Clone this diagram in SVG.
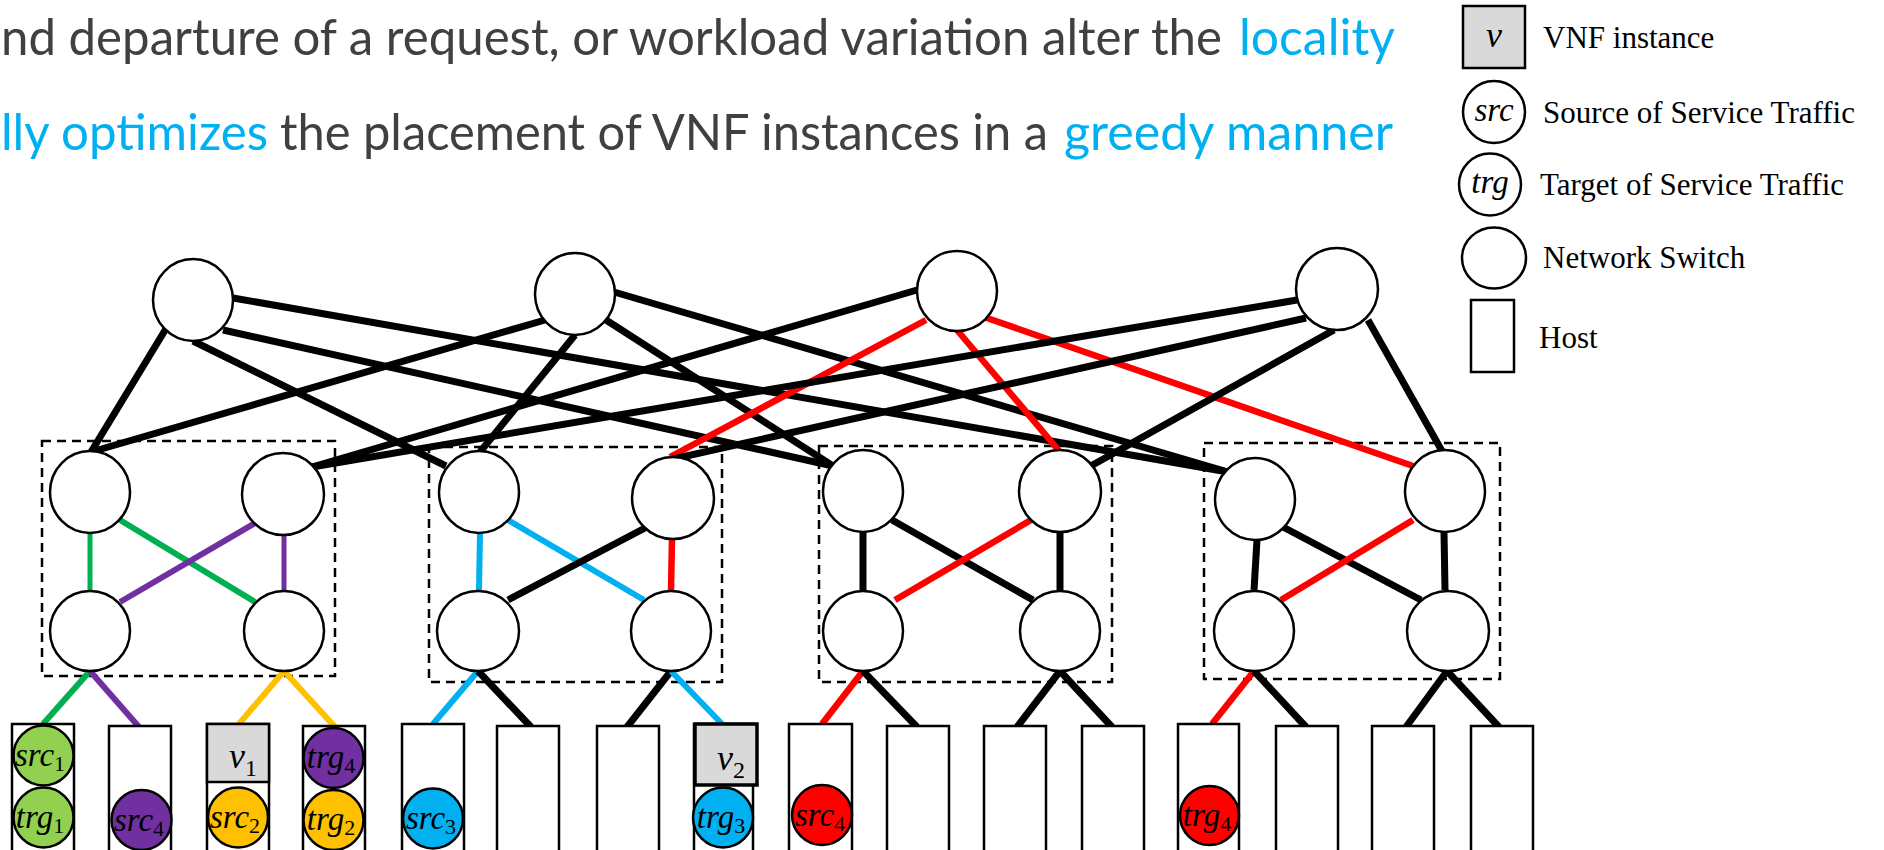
<svg xmlns="http://www.w3.org/2000/svg" width="1884" height="850" viewBox="0 0 1884 850">
<style>
.hd{font-family:Lato,"Open Sans","Liberation Sans",sans-serif;font-size:50px}
.gr{fill:#404040}
.bl{fill:#00B0F0}
.lg{font-family:"Liberation Serif","Times New Roman",serif;font-size:31px;fill:#000}
.m{font-family:"Liberation Serif","Times New Roman",serif;font-style:italic;font-size:33px;fill:#000}
.sub{font-style:normal;font-size:22px}
.sw{fill:#fff;stroke:#000;stroke-width:2.5}
.host{fill:#fff;stroke:#000;stroke-width:2.5}
.vnf{fill:#D9D9D9;stroke:#000;stroke-width:2.5}
.pc{stroke:#000;stroke-width:2.5}
.pod{fill:none;stroke:#000;stroke-width:2.5;stroke-dasharray:9 6}
.k{stroke:#000;stroke-width:7;stroke-linecap:butt}
.r{stroke:#FF0000;stroke-width:6.5}
.g{stroke:#00B050;stroke-width:6}
.p{stroke:#7030A0;stroke-width:6}
.o{stroke:#FFC000;stroke-width:6}
.b{stroke:#00B0F0;stroke-width:6}
</style>

<!-- header text -->
<g id="header">
<text class="hd gr" x="1" y="55" textLength="1221" lengthAdjust="spacingAndGlyphs">nd departure of a request, or workload variation alter the</text>
<text class="hd bl" x="1239" y="55" textLength="156" lengthAdjust="spacingAndGlyphs">locality</text>
<text class="hd bl" x="1" y="150" textLength="267" lengthAdjust="spacingAndGlyphs">lly optimizes</text>
<text class="hd gr" x="280" y="150" textLength="768" lengthAdjust="spacingAndGlyphs">the placement of VNF instances in a</text>
<text class="hd bl" x="1064" y="150" textLength="329" lengthAdjust="spacingAndGlyphs">greedy manner</text>
</g>

<!-- pods -->
<g id="pods">
<rect id="pod1" class="pod" x="42" y="441" width="293" height="235"/>
<rect id="pod2" class="pod" x="429" y="447" width="293" height="235"/>
<rect id="pod3" class="pod" x="819" y="446" width="293" height="236"/>
<rect id="pod4" class="pod" x="1204" y="443" width="296" height="236"/>
</g>

<!-- connectors -->
<g id="connectors">
<!-- core to aggregation -->
<line class="k" x1="167" y1="327" x2="91" y2="452"/>
<line class="k" x1="193" y1="341" x2="446" y2="466"/>
<line class="k" x1="223" y1="330" x2="833" y2="466"/>
<line class="k" x1="233" y1="298" x2="1228" y2="472"/>
<line class="k" x1="545" y1="320" x2="91" y2="452"/>
<line class="k" x1="575" y1="335" x2="480" y2="452"/>
<line class="k" x1="606" y1="320" x2="833" y2="466"/>
<line class="k" x1="614" y1="292" x2="1228" y2="472"/>
<line class="k" x1="917" y1="290" x2="312" y2="467"/>
<line class="r" x1="926" y1="320" x2="670" y2="457"/>
<line class="r" x1="957" y1="330" x2="1060" y2="452"/>
<line class="r" x1="984" y1="317" x2="1413" y2="466"/>
<line class="k" x1="1297" y1="300" x2="312" y2="467"/>
<line class="k" x1="1306" y1="318" x2="673" y2="459"/>
<line class="k" x1="1334" y1="330" x2="1089" y2="467"/>
<line class="k" x1="1368" y1="320" x2="1442" y2="451"/>
<!-- aggregation to edge -->
<line class="g" style="stroke-width:5" x1="90" y1="533" x2="90" y2="590"/>
<line class="g" x1="120" y1="520" x2="255" y2="602"/>
<line class="p" x1="255" y1="523" x2="120" y2="602"/>
<line class="p" style="stroke-width:5" x1="284" y1="535" x2="284" y2="590"/>
<line class="b" x1="480" y1="533" x2="479" y2="590"/>
<line class="b" x1="508" y1="520" x2="644" y2="600"/>
<line class="k" x1="645" y1="528" x2="508" y2="600"/>
<line class="r" x1="672" y1="539" x2="671" y2="590"/>
<line class="k" x1="863" y1="532" x2="863" y2="590"/>
<line class="k" x1="892" y1="520" x2="1033" y2="600"/>
<line class="r" x1="1031" y1="520" x2="895" y2="600"/>
<line class="k" x1="1060" y1="532" x2="1060" y2="590"/>
<line class="k" x1="1257" y1="540" x2="1254" y2="590"/>
<line class="k" x1="1283" y1="527" x2="1421" y2="600"/>
<line class="r" x1="1413" y1="520" x2="1281" y2="600"/>
<line class="k" x1="1444" y1="532" x2="1445" y2="590"/>
<!-- edge to host -->
<line class="g" x1="90" y1="671" x2="43" y2="724"/>
<line class="p" x1="90" y1="671" x2="139" y2="727"/>
<line class="o" x1="284" y1="671" x2="239" y2="724"/>
<line class="o" x1="284" y1="671" x2="335" y2="727"/>
<line class="b" x1="478" y1="671" x2="433" y2="724"/>
<line class="k" x1="478" y1="671" x2="531" y2="727"/>
<line class="k" x1="671" y1="671" x2="627" y2="727"/>
<line class="b" x1="671" y1="671" x2="722" y2="724"/>
<line class="r" x1="863" y1="671" x2="822" y2="724"/>
<line class="k" x1="863" y1="671" x2="917" y2="727"/>
<line class="k" x1="1060" y1="671" x2="1017" y2="727"/>
<line class="k" x1="1060" y1="671" x2="1112" y2="727"/>
<line class="r" x1="1254" y1="671" x2="1212" y2="724"/>
<line class="k" x1="1254" y1="671" x2="1306" y2="727"/>
<line class="k" x1="1447" y1="671" x2="1406" y2="727"/>
<line class="k" x1="1447" y1="671" x2="1499" y2="727"/>
</g>

<!-- core switches -->
<g id="core1"><ellipse class="sw" cx="193" cy="300" rx="40" ry="41"/></g>
<g id="core2"><ellipse class="sw" cx="575" cy="294" rx="40" ry="41"/></g>
<g id="core3"><ellipse class="sw" cx="957" cy="291" rx="40" ry="40"/></g>
<g id="core4"><ellipse class="sw" cx="1337" cy="289" rx="41" ry="41"/></g>
<!-- aggregation switches -->
<g id="agg1"><ellipse class="sw" cx="90" cy="492" rx="40" ry="41"/></g>
<g id="agg2"><ellipse class="sw" cx="283" cy="494" rx="41" ry="41"/></g>
<g id="agg3"><ellipse class="sw" cx="479" cy="492" rx="40" ry="41"/></g>
<g id="agg4"><ellipse class="sw" cx="673" cy="498" rx="41" ry="41"/></g>
<g id="agg5"><ellipse class="sw" cx="863" cy="491" rx="40" ry="41"/></g>
<g id="agg6"><ellipse class="sw" cx="1060" cy="491" rx="41" ry="41"/></g>
<g id="agg7"><ellipse class="sw" cx="1255" cy="499" rx="40" ry="41"/></g>
<g id="agg8"><ellipse class="sw" cx="1445" cy="491" rx="40" ry="41"/></g>
<!-- edge switches -->
<g id="edge1"><ellipse class="sw" cx="90" cy="631" rx="40" ry="40"/></g>
<g id="edge2"><ellipse class="sw" cx="284" cy="631" rx="40" ry="40"/></g>
<g id="edge3"><ellipse class="sw" cx="478" cy="631" rx="41" ry="40"/></g>
<g id="edge4"><ellipse class="sw" cx="671" cy="631" rx="40" ry="40"/></g>
<g id="edge5"><ellipse class="sw" cx="863" cy="631" rx="40" ry="40"/></g>
<g id="edge6"><ellipse class="sw" cx="1060" cy="631" rx="40" ry="40"/></g>
<g id="edge7"><ellipse class="sw" cx="1254" cy="631" rx="40" ry="40"/></g>
<g id="edge8"><ellipse class="sw" cx="1448" cy="631" rx="41" ry="40"/></g>

<!-- hosts -->
<g id="host1"><rect class="host" x="12" y="724" width="62" height="130"/>
<circle class="pc" cx="43.5" cy="755.5" r="30" fill="#92D050"/>
<text class="m" x="40" y="766" text-anchor="middle">src<tspan class="sub" dy="5">1</tspan></text>
<circle class="pc" cx="43.5" cy="817.5" r="30" fill="#92D050"/>
<text class="m" x="40" y="828" text-anchor="middle">trg<tspan class="sub" dy="5">1</tspan></text></g>
<g id="host2"><rect class="host" x="109" y="726" width="62" height="130"/>
<circle class="pc" cx="141.5" cy="820" r="30" fill="#7030A0"/>
<text class="m" x="139" y="831" text-anchor="middle">src<tspan class="sub" dy="5">4</tspan></text></g>
<g id="host3"><rect class="host" x="207" y="724" width="62" height="130"/>
<rect class="vnf" x="207" y="724" width="62" height="58"/>
<text class="m" x="243" y="768" text-anchor="middle" style="font-size:36px">v<tspan class="sub" dy="8" style="font-size:24px">1</tspan></text>
<circle class="pc" cx="238" cy="817.5" r="30" fill="#FFC000"/>
<text class="m" x="235" y="828" text-anchor="middle">src<tspan class="sub" dy="5">2</tspan></text></g>
<g id="host4"><rect class="host" x="303" y="726" width="62" height="130"/>
<circle class="pc" cx="333.5" cy="758" r="30" fill="#7030A0"/>
<text class="m" x="331" y="768" text-anchor="middle">trg<tspan class="sub" dy="5">4</tspan></text>
<circle class="pc" cx="333.5" cy="820" r="30" fill="#FFC000"/>
<text class="m" x="331" y="830" text-anchor="middle">trg<tspan class="sub" dy="5">2</tspan></text></g>
<g id="host5"><rect class="host" x="402" y="724" width="62" height="130"/>
<circle class="pc" cx="433" cy="818.5" r="30" fill="#00B0F0"/>
<text class="m" x="431" y="829" text-anchor="middle">src<tspan class="sub" dy="5">3</tspan></text></g>
<g id="host6"><rect class="host" x="497" y="726" width="62" height="130"/></g>
<g id="host7"><rect class="host" x="597" y="726" width="62" height="130"/></g>
<g id="host8"><rect class="host" x="694" y="724" width="59" height="130"/>
<rect class="vnf" style="stroke-width:3.5" x="695" y="724" width="62" height="61"/>
<text class="m" x="731" y="770" text-anchor="middle" style="font-size:36px">v<tspan class="sub" dy="8" style="font-size:24px">2</tspan></text>
<circle class="pc" cx="723" cy="817.5" r="30" fill="#00B0F0"/>
<text class="m" x="721" y="828" text-anchor="middle">trg<tspan class="sub" dy="5">3</tspan></text></g>
<g id="host9"><rect class="host" x="789" y="724" width="63" height="130"/>
<circle class="pc" cx="822" cy="815" r="30" fill="#FF0000"/>
<text class="m" x="820" y="826" text-anchor="middle">src<tspan class="sub" dy="5">4</tspan></text></g>
<g id="host10"><rect class="host" x="887" y="726" width="62" height="130"/></g>
<g id="host11"><rect class="host" x="984" y="726" width="62" height="130"/></g>
<g id="host12"><rect class="host" x="1082" y="726" width="62" height="130"/></g>
<g id="host13"><rect class="host" x="1178" y="724" width="61" height="130"/>
<circle class="pc" cx="1209.5" cy="815.5" r="29.5" fill="#FF0000"/>
<text class="m" x="1207" y="826" text-anchor="middle">trg<tspan class="sub" dy="5">4</tspan></text></g>
<g id="host14"><rect class="host" x="1276" y="726" width="62" height="130"/></g>
<g id="host15"><rect class="host" x="1372" y="726" width="62" height="130"/></g>
<g id="host16"><rect class="host" x="1471" y="726" width="62" height="130"/></g>

<!-- legend -->
<g id="legend">
<rect class="vnf" x="1463" y="6" width="62" height="62"/>
<text class="m" x="1494" y="47" text-anchor="middle" style="font-size:36px">v</text>
<text class="lg" x="1543" y="48">VNF instance</text>
<ellipse class="sw" cx="1494" cy="112" rx="31" ry="31"/>
<text class="m" x="1494" y="121" text-anchor="middle">src</text>
<text class="lg" x="1543" y="123">Source of Service Traffic</text>
<ellipse class="sw" cx="1490" cy="184.5" rx="31" ry="31"/>
<text class="m" x="1490" y="193" text-anchor="middle">trg</text>
<text class="lg" x="1540" y="195">Target of Service Traffic</text>
<ellipse class="sw" cx="1494" cy="258" rx="32" ry="30.5"/>
<text class="lg" x="1543" y="268">Network Switch</text>
<rect class="host" x="1471" y="300" width="43" height="72"/>
<text class="lg" x="1539" y="348">Host</text>
</g>
</svg>
